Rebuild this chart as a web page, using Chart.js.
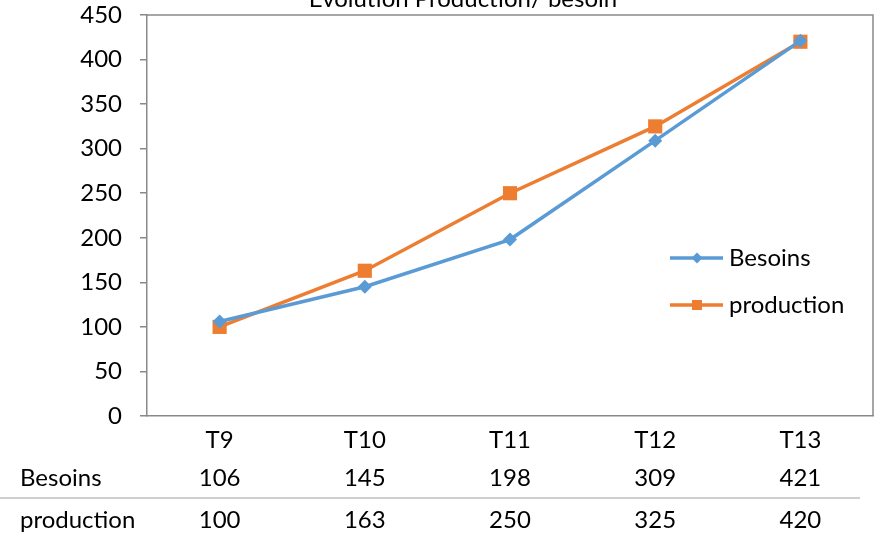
<!DOCTYPE html>
<html>
<head>
<meta charset="utf-8">
<script src="https://cdn.jsdelivr.net/npm/chart.js@4"></script>
<style>
  html, body { margin: 0; padding: 0; background: #fff; }
  #wrap { width: 881px; height: 533px; }
</style>
</head>
<body>
<div id="wrap"><canvas id="chart" width="881" height="533"></canvas></div>
<script>
const categories = ["T9", "T10", "T11", "T12", "T13"];
const besoins = [106, 145, 198, 309, 421];
const production = [100, 163, 250, 325, 420];
const yTicks = [0, 50, 100, 150, 200, 250, 300, 350, 400, 450];
const chartTitle = "Evolution Production/ besoin";

const FONT = "Lato, 'Open Sans', sans-serif";
const TXT = "#000";
const AXIS = "#898989";

// plot frame, title, legend and data table
const extras = {
  id: "extras",
  afterDraw(chart) {
    const ctx = chart.ctx;
    const a = chart.chartArea;
    const x = chart.scales.x;
    ctx.save();
    ctx.strokeStyle = AXIS;
    ctx.lineWidth = 1.5;
    ctx.beginPath();
    ctx.moveTo(a.left, a.top);
    ctx.lineTo(a.right, a.top);
    ctx.lineTo(a.right, a.bottom);
    ctx.stroke();

    ctx.fillStyle = TXT;
    ctx.font = "24px " + FONT;
    ctx.textAlign = "center";
    ctx.textBaseline = "alphabetic";
    ctx.fillText(chartTitle, 463, 7);

    // legend
    const items = [
      { label: "Besoins", ds: chart.data.datasets[0], y: 258 },
      { label: "production", ds: chart.data.datasets[1], y: 305 }
    ];
    items.forEach((it) => {
      ctx.strokeStyle = it.ds.borderColor;
      ctx.lineWidth = 3.5;
      ctx.beginPath();
      ctx.moveTo(670, it.y);
      ctx.lineTo(723, it.y);
      ctx.stroke();
      ctx.fillStyle = it.ds.borderColor;
      ctx.beginPath();
      if (it.ds.pointStyle === "rect") {
        ctx.rect(697 - 5, it.y - 5, 10, 10);
      } else {
        ctx.moveTo(697, it.y - 5.5);
        ctx.lineTo(702.5, it.y);
        ctx.lineTo(697, it.y + 5.5);
        ctx.lineTo(691.5, it.y);
        ctx.closePath();
      }
      ctx.fill();
      ctx.fillStyle = TXT;
      ctx.textAlign = "left";
      ctx.textBaseline = "middle";
      ctx.fillText(it.label, 729, it.y);
    });

    // data table
    const rows = [
      { label: "Besoins", vals: besoins, y: 478 },
      { label: "production", vals: production, y: 520 }
    ];
    ctx.textBaseline = "middle";
    rows.forEach((r) => {
      ctx.textAlign = "left";
      ctx.fillText(r.label, 20, r.y);
      ctx.textAlign = "center";
      r.vals.forEach((v, i) => ctx.fillText(String(v), x.getPixelForTick(i), r.y));
    });
    ctx.strokeStyle = "#bfbfbf";
    ctx.lineWidth = 1.5;
    ctx.beginPath();
    ctx.moveTo(0, 498);
    ctx.lineTo(860, 498);
    ctx.stroke();
    ctx.restore();
  }
};

new Chart(document.getElementById("chart"), {
  type: "line",
  data: {
    labels: categories,
    datasets: [
      {
        label: "Besoins",
        data: besoins,
        borderColor: "#5b9bd5",
        backgroundColor: "#5b9bd5",
        borderWidth: 3.5,
        pointStyle: "rectRot",
        pointRadius: 7,
        pointBorderWidth: 0,
        tension: 0
      },
      {
        label: "production",
        data: production,
        borderColor: "#ed7d31",
        backgroundColor: "#ed7d31",
        borderWidth: 3.5,
        pointStyle: "rect",
        pointRadius: 10,
        pointBorderWidth: 0,
        tension: 0
      }
    ]
  },
  options: {
    responsive: false,
    animation: false,
    layout: { autoPadding: false, padding: { top: 15, right: 8, left: 0, bottom: 0 } },
    plugins: {
      legend: { display: false },
      title: { display: false },
      tooltip: { enabled: false }
    },
    scales: {
      x: {
        offset: true,
        grid: { display: false, drawTicks: false },
        border: { display: true, color: AXIS, width: 1.5 },
        ticks: { color: TXT, font: { family: FONT, size: 24 }, padding: 10, maxRotation: 0 },
        afterFit(scale) { scale.height = 117; scale.paddingLeft = 0; scale.paddingRight = 0; }
      },
      y: {
        min: 0,
        max: 450,
        afterBuildTicks(scale) { scale.ticks = yTicks.map((v) => ({ value: v })); },
        grid: { drawOnChartArea: false, drawTicks: true, tickLength: 7, color: AXIS, lineWidth: 1.5 },
        border: { display: true, color: AXIS, width: 1.5 },
        ticks: { color: TXT, font: { family: FONT, size: 24 }, padding: 18 },
        afterFit(scale) { scale.width = 147; scale.paddingTop = 0; scale.paddingBottom = 0; }
      }
    }
  },
  plugins: [extras]
});
</script>
</body>
</html>
